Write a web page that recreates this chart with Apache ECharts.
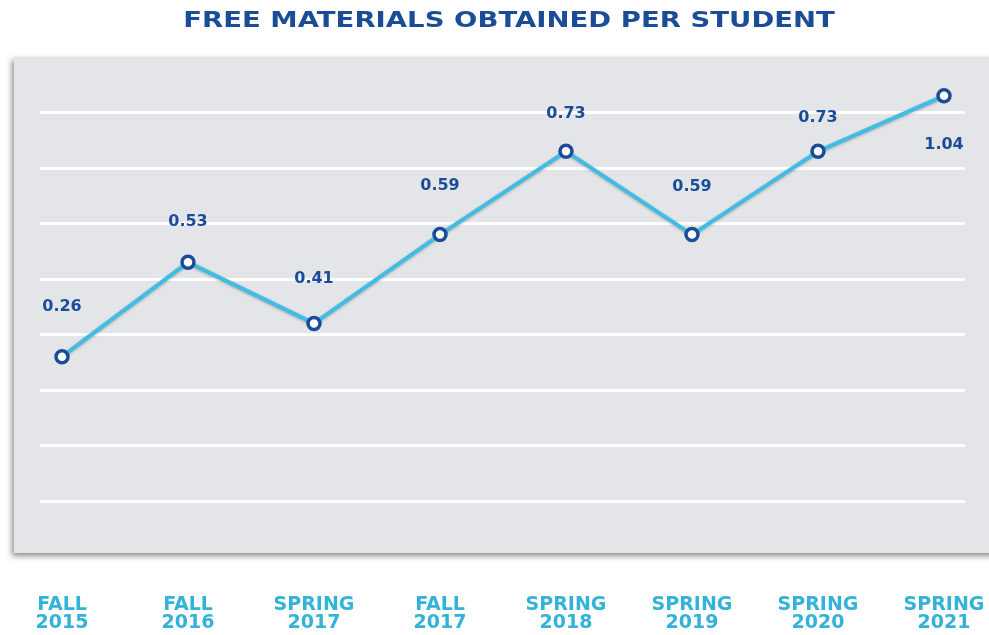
<!DOCTYPE html>
<html>
<head>
<meta charset="utf-8">
<script src="https://cdn.jsdelivr.net/npm/echarts@6/dist/echarts.min.js"></script>
<style>
  html, body { margin: 0; padding: 0; background: #fff; }
  #chart { width: 989px; height: 635px; }
</style>
</head>
<body>
<div id="chart"></div>
<script>
// terms along the x axis
const terms = ['FALL\n2015', 'FALL\n2016', 'SPRING\n2017', 'FALL\n2017', 'SPRING\n2018', 'SPRING\n2019', 'SPRING\n2020', 'SPRING\n2021']
// printed value per student
const perStudent = [0.26, 0.53, 0.41, 0.59, 0.73, 0.59, 0.73, 1.04]
// drawn height of each point, read in gridline units (bottom line = 0)
const drawnLevel = [2.6, 4.3, 3.2, 4.8, 6.3, 4.8, 6.3, 7.3]

// label gaps above the marker (last one sits below)
const labelGap = [34, 25, 29, 33, 22, 32, 18, 33]

const theme = {
  navy: '#1b4c98',
  cyan: '#35b2d7',
  line: '#41bde4',
  panel: '#e3e5e8',
  font: '"DejaVu Sans", sans-serif'
}

const chart = echarts.init(document.getElementById('chart'))

chart.setOption({
  animation: false,
  graphic: [{
    type: 'rect',
    z: -10,
    shape: { x: 14, y: 57, width: 990, height: 496 },
    style: {
      fill: theme.panel,
      shadowBlur: 6,
      shadowOffsetX: -2,
      shadowOffsetY: 3,
      shadowColor: 'rgba(0,0,0,0.45)'
    }
  }, {
    // title, stretched to match the wide lettering
    type: 'text',
    x: 509,
    y: 11,
    scaleX: 1.31,
    style: {
      text: 'FREE MATERIALS OBTAINED PER STUDENT',
      align: 'center',
      fill: theme.navy,
      font: 'bold 21px ' + theme.font
    }
  }],
  grid: [
    // white rules across the panel
    { left: 40, right: 24, top: 57, bottom: 134 },
    // the series itself
    { left: 62, right: 45, top: 57, bottom: 134 }
  ],
  xAxis: [
    { gridIndex: 0, type: 'value', show: false, min: 0, max: 1 },
    {
      gridIndex: 1,
      type: 'category',
      data: terms,
      boundaryGap: false,
      axisLine: { show: false },
      axisTick: { show: false },
      axisLabel: {
        margin: 95,
        color: theme.cyan,
        fontFamily: theme.font,
        fontWeight: 'bold',
        fontSize: 19,
        lineHeight: 18
      }
    }
  ],
  yAxis: [
    {
      gridIndex: 0,
      type: 'value',
      min: 0,
      max: 8,
      interval: 1,
      axisLine: { show: false },
      axisTick: { show: false },
      axisLabel: { show: false },
      splitLine: {
        showMinLine: true,
        showMaxLine: false,
        lineStyle: { color: '#ffffff', width: 3 }
      }
    },
    {
      gridIndex: 1,
      type: 'value',
      min: 0,
      max: 8,
      show: false,
      splitLine: { show: false }
    }
  ],
  series: [{
    type: 'line',
    xAxisIndex: 1,
    yAxisIndex: 1,
    data: drawnLevel.map((v, i) => ({
      value: v,
      label: {
        position: i === drawnLevel.length - 1 ? 'bottom' : 'top',
        distance: labelGap[i]
      }
    })),
    symbol: 'circle',
    symbolSize: 12,
    itemStyle: {
      color: '#ffffff',
      borderColor: theme.navy,
      borderWidth: 3.5
    },
    lineStyle: {
      color: theme.line,
      width: 4,
      shadowColor: 'rgba(0,0,0,0.25)',
      shadowBlur: 3,
      shadowOffsetY: 1
    },
    label: {
      show: true,
      color: theme.navy,
      fontFamily: theme.font,
      fontWeight: 'bold',
      fontSize: 16,
      formatter: p => perStudent[p.dataIndex].toFixed(2)
    },
    z: 5
  }]
})
</script>
</body>
</html>
